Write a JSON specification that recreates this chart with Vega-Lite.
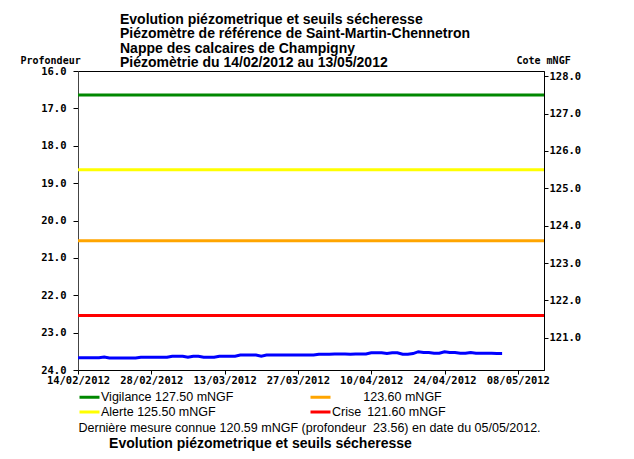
{
  "$schema": "https://vega.github.io/schema/vega-lite/v6.json",
  "width": 466,
  "height": 299,
  "autosize": {"type": "none"},
  "padding": {"left": 78, "top": 71, "right": 90, "bottom": 89},
  "background": "white",
  "title": {
    "text": ["Evolution piézometrique et seuils sécheresse", "Piézomètre de référence de Saint-Martin-Chennetron", "Nappe des calcaires de Champigny", "Piézomètrie du 14/02/2012 au 13/05/2012"],
    "anchor": "start",
    "frame": "group",
    "dx": 42,
    "dy": 19,
    "offset": 4,
    "font": "Liberation Sans",
    "fontSize": 14,
    "fontWeight": "bold",
    "lineHeight": 14.3,
    "color": "#000"
  },
  "config": {
    "view": {"stroke": "#000", "strokeWidth": 1},
    "axis": {
      "grid": false,
      "labelFont": "DejaVu Sans Mono",
      "labelFontWeight": "bold",
      "labelFontSize": 10.5,
      "labelColor": "#000",
      "domainColor": "#444",
      "tickColor": "#000",
      "titleColor": "#000"
    }
  },
  "layer": [
    {
      "data": {"values": [
        {"date": "2012-02-14", "profondeur": 23.67},
        {"date": "2012-02-15", "profondeur": 23.67},
        {"date": "2012-02-16", "profondeur": 23.67},
        {"date": "2012-02-17", "profondeur": 23.67},
        {"date": "2012-02-18", "profondeur": 23.67},
        {"date": "2012-02-19", "profondeur": 23.65},
        {"date": "2012-02-20", "profondeur": 23.68},
        {"date": "2012-02-21", "profondeur": 23.68},
        {"date": "2012-02-22", "profondeur": 23.68},
        {"date": "2012-02-23", "profondeur": 23.68},
        {"date": "2012-02-24", "profondeur": 23.68},
        {"date": "2012-02-25", "profondeur": 23.68},
        {"date": "2012-02-26", "profondeur": 23.66},
        {"date": "2012-02-27", "profondeur": 23.66},
        {"date": "2012-02-28", "profondeur": 23.66},
        {"date": "2012-02-29", "profondeur": 23.66},
        {"date": "2012-03-01", "profondeur": 23.66},
        {"date": "2012-03-02", "profondeur": 23.66},
        {"date": "2012-03-03", "profondeur": 23.63},
        {"date": "2012-03-04", "profondeur": 23.63},
        {"date": "2012-03-05", "profondeur": 23.63},
        {"date": "2012-03-06", "profondeur": 23.66},
        {"date": "2012-03-07", "profondeur": 23.63},
        {"date": "2012-03-08", "profondeur": 23.63},
        {"date": "2012-03-09", "profondeur": 23.66},
        {"date": "2012-03-10", "profondeur": 23.66},
        {"date": "2012-03-11", "profondeur": 23.66},
        {"date": "2012-03-12", "profondeur": 23.63},
        {"date": "2012-03-13", "profondeur": 23.63},
        {"date": "2012-03-14", "profondeur": 23.63},
        {"date": "2012-03-15", "profondeur": 23.63},
        {"date": "2012-03-16", "profondeur": 23.60},
        {"date": "2012-03-17", "profondeur": 23.60},
        {"date": "2012-03-18", "profondeur": 23.60},
        {"date": "2012-03-19", "profondeur": 23.60},
        {"date": "2012-03-20", "profondeur": 23.63},
        {"date": "2012-03-21", "profondeur": 23.60},
        {"date": "2012-03-22", "profondeur": 23.60},
        {"date": "2012-03-23", "profondeur": 23.60},
        {"date": "2012-03-24", "profondeur": 23.60},
        {"date": "2012-03-25", "profondeur": 23.60},
        {"date": "2012-03-26", "profondeur": 23.60},
        {"date": "2012-03-27", "profondeur": 23.60},
        {"date": "2012-03-28", "profondeur": 23.60},
        {"date": "2012-03-29", "profondeur": 23.60},
        {"date": "2012-03-30", "profondeur": 23.60},
        {"date": "2012-03-31", "profondeur": 23.58},
        {"date": "2012-04-01", "profondeur": 23.58},
        {"date": "2012-04-02", "profondeur": 23.58},
        {"date": "2012-04-03", "profondeur": 23.57},
        {"date": "2012-04-04", "profondeur": 23.57},
        {"date": "2012-04-05", "profondeur": 23.57},
        {"date": "2012-04-06", "profondeur": 23.58},
        {"date": "2012-04-07", "profondeur": 23.57},
        {"date": "2012-04-08", "profondeur": 23.57},
        {"date": "2012-04-09", "profondeur": 23.57},
        {"date": "2012-04-10", "profondeur": 23.54},
        {"date": "2012-04-11", "profondeur": 23.54},
        {"date": "2012-04-12", "profondeur": 23.54},
        {"date": "2012-04-13", "profondeur": 23.56},
        {"date": "2012-04-14", "profondeur": 23.54},
        {"date": "2012-04-15", "profondeur": 23.54},
        {"date": "2012-04-16", "profondeur": 23.58},
        {"date": "2012-04-17", "profondeur": 23.58},
        {"date": "2012-04-18", "profondeur": 23.56},
        {"date": "2012-04-19", "profondeur": 23.51},
        {"date": "2012-04-20", "profondeur": 23.53},
        {"date": "2012-04-21", "profondeur": 23.53},
        {"date": "2012-04-22", "profondeur": 23.55},
        {"date": "2012-04-23", "profondeur": 23.55},
        {"date": "2012-04-24", "profondeur": 23.51},
        {"date": "2012-04-25", "profondeur": 23.53},
        {"date": "2012-04-26", "profondeur": 23.53},
        {"date": "2012-04-27", "profondeur": 23.55},
        {"date": "2012-04-28", "profondeur": 23.55},
        {"date": "2012-04-29", "profondeur": 23.53},
        {"date": "2012-04-30", "profondeur": 23.55},
        {"date": "2012-05-01", "profondeur": 23.55},
        {"date": "2012-05-02", "profondeur": 23.55},
        {"date": "2012-05-03", "profondeur": 23.55},
        {"date": "2012-05-04", "profondeur": 23.56},
        {"date": "2012-05-05", "profondeur": 23.56}
      ]},
      "mark": {"type": "line", "color": "#0000ff", "strokeWidth": 3},
      "encoding": {
        "x": {
          "field": "date",
          "type": "temporal",
          "scale": {"type": "utc", "domain": [{"year": 2012, "month": 2, "date": 14, "utc": true}, {"year": 2012, "month": 5, "date": 13, "utc": true}]},
          "axis": {
            "values": [
              {"year": 2012, "month": 2, "date": 14, "utc": true},
              {"year": 2012, "month": 2, "date": 28, "utc": true},
              {"year": 2012, "month": 3, "date": 13, "utc": true},
              {"year": 2012, "month": 3, "date": 27, "utc": true},
              {"year": 2012, "month": 4, "date": 10, "utc": true},
              {"year": 2012, "month": 4, "date": 24, "utc": true},
              {"year": 2012, "month": 5, "date": 8, "utc": true}
            ],
            "labelExpr": "utcFormat(datum.value, '%d/%m/%Y')",
            "labelFlush": false,
            "labelOverlap": false,
            "tickSize": 4,
            "labelPadding": 1,
            "domainColor": "#000",
            "title": "Dernière mesure connue 120.59 mNGF (profondeur\u00a0 23.56) en date du 05/05/2012.",
            "titleFont": "Liberation Sans",
            "titleFontSize": 12.5,
            "titleFontWeight": "normal",
            "titleX": 0,
            "titleY": 57,
            "titleAlign": "left",
            "titleBaseline": "middle",
            "titleAnchor": "start"
          }
        },
        "y": {
          "field": "profondeur",
          "type": "quantitative",
          "scale": {"domain": [16, 24], "reverse": true, "zero": false, "nice": false},
          "axis": {
            "values": [16, 17, 18, 19, 20, 21, 22, 23, 24],
            "format": ".1f",
            "tickSize": 5,
            "labelPadding": 7,
            "title": "Profondeur",
            "titleAngle": 0,
            "titleX": -58,
            "titleY": -11,
            "titleAlign": "left",
            "titleBaseline": "middle",
            "titleFont": "DejaVu Sans Mono",
            "titleFontWeight": "bold",
            "titleFontSize": 10
          }
        }
      }
    },
    {
      "data": {"values": [
        {"seuil": "Vigilance 127.50 mNGF", "cote": 127.5},
        {"seuil": "\u200b\u00a0\u00a0\u00a0\u00a0\u00a0\u00a0\u00a0\u00a0\u00a0123.60 mNGF", "cote": 123.6},
        {"seuil": "Alerte 125.50 mNGF", "cote": 125.5},
        {"seuil": "Crise\u00a0\u2009121.60 mNGF", "cote": 121.6}
      ]},
      "mark": {"type": "rule", "strokeWidth": 3},
      "encoding": {
        "y": {
          "field": "cote",
          "type": "quantitative",
          "scale": {"domain": [120.14, 128.14], "zero": false, "nice": false},
          "axis": {
            "orient": "right",
            "values": [121, 122, 123, 124, 125, 126, 127, 128],
            "format": ".1f",
            "tickSize": 4,
            "labelPadding": 1,
            "domainColor": "#000",
            "title": "Cote mNGF",
            "titleAngle": 0,
            "titleX": -28,
            "titleY": -11,
            "titleAlign": "left",
            "titleBaseline": "middle",
            "titleFont": "DejaVu Sans Mono",
            "titleFontWeight": "bold",
            "titleFontSize": 10
          }
        },
        "color": {
          "field": "seuil",
          "type": "nominal",
          "scale": {
            "domain": ["Vigilance 127.50 mNGF", "Alerte 125.50 mNGF", "\u200b\u00a0\u00a0\u00a0\u00a0\u00a0\u00a0\u00a0\u00a0\u00a0123.60 mNGF", "Crise\u00a0\u2009121.60 mNGF"],
            "range": ["#008800", "#ffff00", "#ffa500", "#ff0000"]
          },
          "legend": {
            "orient": "none",
            "legendX": 0,
            "legendY": 318,
            "columns": 2,
            "columnPadding": 70,
            "rowPadding": 0,
            "symbolType": "M-1,0H2.077",
            "symbolSize": 169,
            "symbolStrokeWidth": 3,
            "labelFont": "Liberation Sans",
            "labelFontSize": 12.5,
            "labelColor": "#000",
            "labelOffset": 7,
            "labelLimit": 300,
            "title": "\u200b\u00a0\u00a0\u00a0\u00a0\u00a0\u00a0\u00a0\u00a0Evolution piézometrique et seuils sécheresse",
            "titleOrient": "bottom",
            "titleFont": "Liberation Sans",
            "titleFontSize": 14,
            "titleFontWeight": "bold",
            "titleColor": "#000",
            "titlePadding": 18,
            "titleLimit": 600
          }
        }
      }
    }
  ],
  "resolve": {"scale": {"y": "independent", "color": "independent"}}
}
